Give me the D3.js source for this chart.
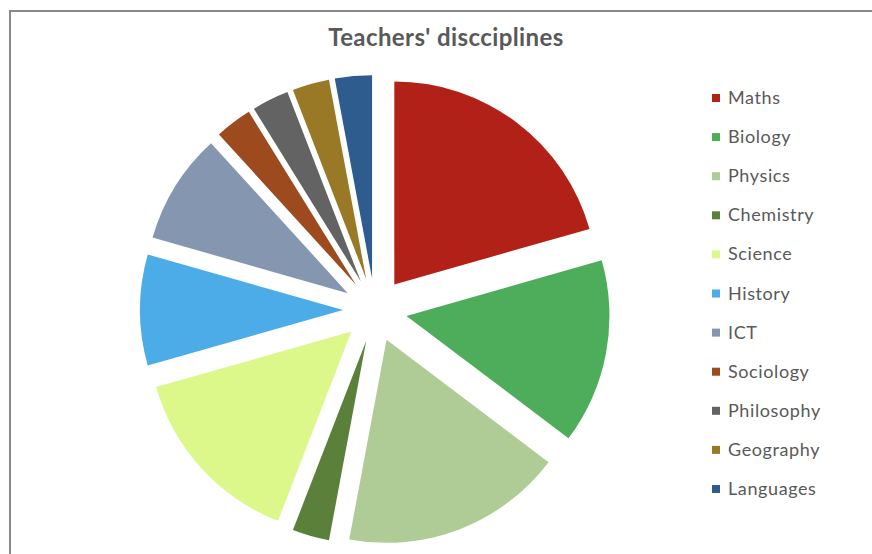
<!DOCTYPE html>
<html>
<head>
<meta charset="utf-8">
<script src="https://cdn.jsdelivr.net/npm/d3@7"></script>
<style>
  body { margin: 0; background: #fff; }
  svg { display: block; }
  text { font-family: Lato, "Open Sans", sans-serif; fill: #595959; }
</style>
</head>
<body>
<div id="chart"></div>
<script>
var width = 872,
    height = 554,
    radio = 203,      // radio del pastel
    separacion = 32;  // cuanto se alejan las porciones del centro

// datos (numero de profesores)
var disciplinas = ["Maths", "Biology", "Physics", "Chemistry", "Science", "History", "ICT",
                   "Sociology", "Philosophy", "Geography", "Languages"];
var profesores = [14, 10, 12, 2, 10, 6, 6, 2, 2, 2, 2];
var colores = ["#b22118", "#4ead5b", "#b0cc96", "#5a803a", "#ddf88a", "#4bace8", "#8496b0",
               "#9c4a1e", "#636363", "#997925", "#2e5c8e"];

var datos = disciplinas.map((d, i) => ({ name: d, value: profesores[i] }));

var color = d3.scaleOrdinal().domain(disciplinas).range(colores);

var pie = d3.pie()
            .value(d => d.value)
            .sort(null);

var arc = d3.arc()
            .innerRadius(0)
            .outerRadius(radio);

var svg = d3.select("#chart")
            .append("svg")
            .attr("width", width)
            .attr("height", height);

// marco (solo se ven el borde superior e izquierdo)
svg.append("path")
   .attr("d", "M10,554 V11 H872")
   .attr("fill", "none")
   .attr("stroke", "#898989")
   .attr("stroke-width", 2);

svg.append("text")
   .attr("x", 446)
   .attr("y", 46)
   .attr("text-anchor", "middle")
   .style("font-size", "24px")
   .style("font-weight", "bold")
   .style("letter-spacing", "0.4px")
   .text("Teachers' discciplines");

var g = svg.append("g")
           .attr("transform", "translate(375,310)");

g.selectAll("path")
 .data(pie(datos))
 .enter().append("path")
 .attr("d", arc)
 .attr("transform", d => {
     var a = (d.startAngle + d.endAngle) / 2; // angulo medio de la porcion
     return "translate(" + (Math.sin(a) * separacion) + "," + (-Math.cos(a) * separacion) + ")";
 })
 .style("fill", d => color(d.data.name));

// leyenda
var leyenda = svg.append("g")
                 .attr("transform", "translate(712,98)");

var item = leyenda.selectAll("g")
                  .data(disciplinas)
                  .enter().append("g")
                  .attr("transform", (d, i) => "translate(0," + (i * 39.1) + ")");

item.append("rect")
    .attr("x", 0)
    .attr("y", -4)
    .attr("width", 8)
    .attr("height", 8)
    .style("fill", d => color(d));

item.append("text")
    .attr("x", 16)
    .attr("y", 6)
    .style("font-size", "18px")
    .style("letter-spacing", "0.6px")
    .text(d => d);
</script>
</body>
</html>
